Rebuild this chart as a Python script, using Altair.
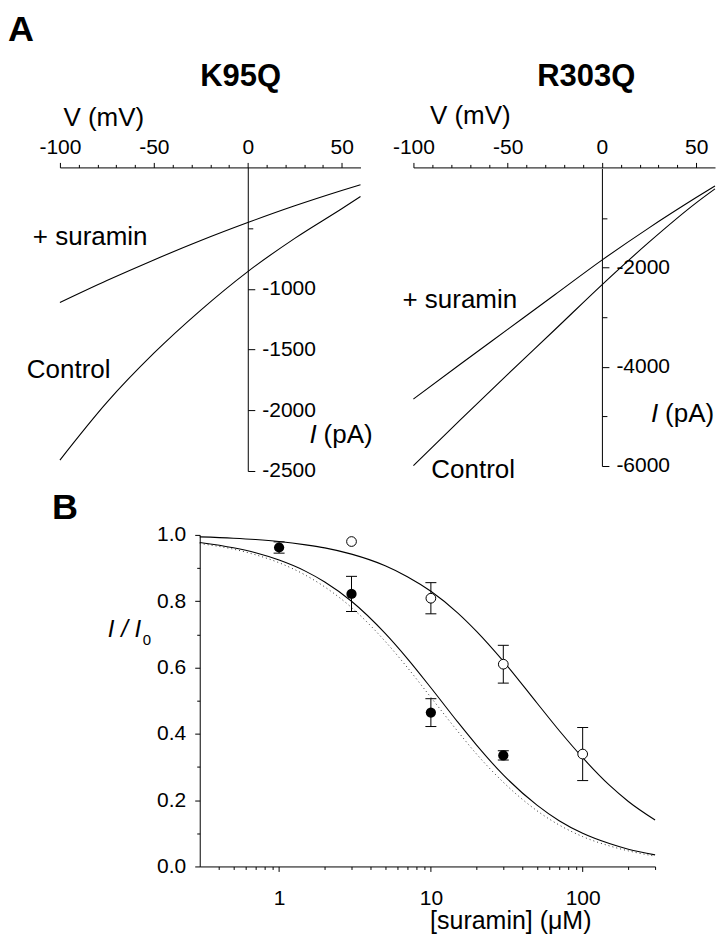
import altair as alt
import pandas as pd

FONT = "Liberation Sans"

# ---- Panel A: current-voltage relations -------------------------------
voltage = [-100, -75, -50, -25, 0, 25, 50, 60]  # mV

k95q_control = [-2410, -1935, -1530, -1175, -858, -584, -340, -240]  # pA
k95q_suramin = [-1113, -932, -762, -602, -454, -316, -190, -142]

r303q_control = [-5992, -5065, -4152, -3253, -2347, -1487, -695, -413]
r303q_suramin = [-4649, -3944, -3246, -2548, -1849, -1198, -588, -352]

v_ticks = [-100, -90, -80, -70, -60, -50, -40, -30, -20, -10, 0, 10, 20, 30, 40, 50]
k95q_ticks = [-500, -1000, -1500, -2000, -2500]
r303q_ticks = [-1000, -2000, -3000, -4000, -5000, -6000]

# ---- Panel B: concentration-response ----------------------------------
conc_filled = [1, 3, 10, 30]
ratio_filled = [0.962, 0.822, 0.464, 0.335]
sem_filled = [0.017, 0.053, 0.042, 0.014]

conc_open = [3, 10, 30, 100]
ratio_open = [0.980, 0.809, 0.610, 0.339]
sem_open = [0.0, 0.047, 0.057, 0.080]

conc_curve = [0.3, 0.5, 0.7, 1, 1.5, 2, 3, 5, 7, 10, 15, 20, 30, 50, 70, 100, 150, 200, 300]
curve_open = [0.994, 0.990, 0.986, 0.980, 0.970, 0.961, 0.942, 0.907, 0.874, 0.830,
              0.765, 0.709, 0.619, 0.493, 0.410, 0.328, 0.245, 0.196, 0.140]
curve_filled = [0.977, 0.961, 0.946, 0.924, 0.890, 0.858, 0.800, 0.703, 0.627, 0.539,
                0.436, 0.366, 0.276, 0.185, 0.138, 0.100, 0.069, 0.052, 0.035]
curve_dotted = [0.974, 0.957, 0.940, 0.916, 0.878, 0.843, 0.781, 0.679, 0.600, 0.510,
                0.408, 0.339, 0.254, 0.168, 0.125, 0.090, 0.062, 0.047, 0.031]

conc_ticks = [0.4, 0.5, 0.6, 0.7, 0.8, 0.9, 1, 2, 3, 4, 5, 6, 7, 8, 9,
              10, 20, 30, 40, 50, 60, 70, 80, 90, 100, 200, 300]
ratio_ticks = [0.0, 0.1, 0.2, 0.3, 0.4, 0.5, 0.6, 0.7, 0.8, 0.9, 1.0]

# Pixel frames of the three plots inside one shared canvas
# (origin = top-left of the K95Q plot area).
FRAME_K95Q = dict(x=[0, 301], y=[304, 0])
FRAME_R303Q = dict(x=[354, 656], y=[299, 1])
FRAME_B = dict(x=[140, 596], y=[700, 368])
CANVAS_W, CANVAS_H = 656, 700

TICK_FONT = 21
TEXT_FONT = 26


def one(value):
    return pd.DataFrame({"t": [value]})


def text_at(value, x, y, size, **style):
    return alt.Chart(one(value)).mark_text(
        align=style.pop("align", "left"), baseline="alphabetic", fontSize=size,
        font=FONT, color="black", **style
    ).encode(x=alt.value(x), y=alt.value(y), text="t:N")


def tick_len(test, major, minor):
    return {"condition": {"test": test, "value": major}, "value": minor}


def iv_panel(name, control, suramin, floor, y_ticks, y_major, frame,
             name_x, v_title_x, v_title_y, i_title_x, i_title_y, notes, extra=()):
    traces = pd.DataFrame({
        "V": voltage + voltage,
        "I": control + suramin,
        "trace": ["Control"] * len(voltage) + ["+ suramin"] * len(voltage),
    })
    x0, x1 = frame["x"]
    x_scale = alt.Scale(domain=[-100, 60], range=frame["x"], nice=False, zero=False)
    y_scale = alt.Scale(domain=[floor, 0], range=frame["y"], nice=False, zero=False)
    # the current axis sits on V = 0
    zero_px = x0 + (x1 - x0) * 100 / 160
    y_offset = -(CANVAS_W - zero_px)

    x_axis = alt.Axis(
        orient="top", values=v_ticks, grid=False,
        labelExpr="datum.value % 50 === 0 ? '' + datum.value : ''",
        tickSize=tick_len("datum.value % 50 === 0", 5, 3),
        labelPadding=5, labelFlush=False, labelOverlap=False,
        title="V (mV)", titleX=v_title_x, titleY=v_title_y, titleAlign="left",
        titleAnchor="start", titleBaseline="alphabetic", titleFontSize=TEXT_FONT,
        titleFontWeight="normal",
    )
    y_axis = alt.Axis(
        orient="right", offset=y_offset, values=y_ticks, grid=False, title=None,
        labelExpr=f"datum.value {y_major} ? '' + datum.value : ''",
        tickSize=tick_len(f"datum.value {y_major}", 7, 5),
        labelPadding=7, labelFlush=False, labelOverlap=False,
    )

    lines = alt.Chart(traces).mark_line(
        color="black", strokeWidth=1.1, interpolate="monotone"
    ).encode(
        x=alt.X("V:Q", scale=x_scale, axis=x_axis),
        y=alt.Y("I:Q", scale=y_scale, axis=y_axis),
        detail="trace:N",
    )
    labels = alt.Chart(pd.DataFrame(notes)).mark_text(
        align="left", baseline="middle", fontSize=TEXT_FONT, font=FONT, color="black"
    ).encode(x=alt.X("V:Q", scale=x_scale), y=alt.Y("I:Q", scale=y_scale), text="label:N")

    heading = text_at(name, name_x, -82, 31, align="center", fontWeight="bold")
    i_sym = text_at("I", i_title_x, i_title_y, TEXT_FONT, fontStyle="italic")
    i_unit = text_at("(pA)", i_title_x + 14, i_title_y, TEXT_FONT)
    return alt.layer(lines, labels, heading, i_sym, i_unit, *extra)


# panel letter and a transparent corner marker fixing the page origin
corner = alt.Chart(one("")).mark_point(size=1, opacity=0).encode(
    x=alt.value(-59.5), y=alt.value(-166.5))
letter_a = text_at("A", -52, -127, 36, fontWeight="bold")

k95q = iv_panel(
    "K95Q", k95q_control, k95q_suramin, -2500, k95q_ticks, "<= -1000", FRAME_K95Q,
    181, 3, -42, 250, 276,
    {"V": [-114.4, -117.6], "I": [-576, -1669], "label": ["+ suramin", "Control"]},
    extra=(letter_a, corner),
)
r303q = iv_panel(
    "R303Q", r303q_control, r303q_suramin, -6000, r303q_ticks, "% 2000 === 0", FRAME_R303Q,
    527, 370, -44, 592, 255,
    {"V": [-105.8, -90.5], "I": [-2659, -6083], "label": ["+ suramin", "Control"]},
)

# ---- Panel B -----------------------------------------------------------
x_b = alt.Scale(type="log", domain=[0.3, 300], range=FRAME_B["x"], nice=False)
y_b = alt.Scale(domain=[0, 1], range=FRAME_B["y"], nice=False, zero=False)
major_conc = "(datum.value === 1 || datum.value === 10 || datum.value === 100)"
major_ratio = "round(datum.value * 10) % 2 === 0"

x_axis_b = alt.Axis(
    orient="bottom", values=conc_ticks, grid=False,
    labelExpr=f"{major_conc} ? '' + datum.value : ''",
    tickSize=tick_len(major_conc, 5, 3),
    labelPadding=16, labelFlush=False, labelOverlap=False,
    title="[suramin] (μM)", titleX=451, titleY=62, titleAlign="center",
    titleAnchor="start", titleBaseline="alphabetic", titleFontSize=25,
    titleFontWeight="normal",
)
y_axis_b = alt.Axis(
    orient="left", offset=-FRAME_B["x"][0], values=ratio_ticks, grid=False, title=None,
    labelExpr=f"{major_ratio} ? format(datum.value, '.1f') : ''",
    tickSize=tick_len(major_ratio, 5, 3),
    labelPadding=9, labelFlush=False, labelOverlap=False,
)

curves = pd.DataFrame({"c": conc_curve, "open": curve_open,
                       "filled": curve_filled, "dotted": curve_dotted})
points = pd.DataFrame({
    "c": conc_filled + conc_open,
    "r": ratio_filled + ratio_open,
    "lo": [r - s for r, s in zip(ratio_filled, sem_filled)]
          + [r - s for r, s in zip(ratio_open, sem_open)],
    "hi": [r + s for r, s in zip(ratio_filled, sem_filled)]
          + [r + s for r, s in zip(ratio_open, sem_open)],
    "kind": ["filled"] * len(conc_filled) + ["open"] * len(conc_open),
})
errors = alt.Chart(points).transform_filter("datum.hi - datum.lo > 0.001")

base_curve = alt.Chart(curves)
dotted = base_curve.mark_line(
    color="#333333", strokeWidth=1, strokeDash=[1, 3], interpolate="monotone"
).encode(x=alt.X("c:Q", scale=x_b, axis=x_axis_b), y=alt.Y("dotted:Q", scale=y_b, axis=y_axis_b))
solid_filled = base_curve.mark_line(color="black", strokeWidth=1.1, interpolate="monotone").encode(
    x=alt.X("c:Q", scale=x_b), y=alt.Y("filled:Q", scale=y_b))
solid_open = base_curve.mark_line(color="black", strokeWidth=1.1, interpolate="monotone").encode(
    x=alt.X("c:Q", scale=x_b), y=alt.Y("open:Q", scale=y_b))

bars = errors.mark_rule(color="black", strokeWidth=1).encode(
    x=alt.X("c:Q", scale=x_b), y=alt.Y("lo:Q", scale=y_b), y2="hi:Q")
caps_lo = errors.mark_tick(
    orient="horizontal", size=11, thickness=1, color="black", opacity=1
).encode(x=alt.X("c:Q", scale=x_b), y=alt.Y("lo:Q", scale=y_b))
caps_hi = errors.mark_tick(
    orient="horizontal", size=11, thickness=1, color="black", opacity=1
).encode(x=alt.X("c:Q", scale=x_b), y=alt.Y("hi:Q", scale=y_b))
dots_filled = alt.Chart(points).transform_filter("datum.kind === 'filled'").mark_circle(
    size=105, color="black", opacity=1).encode(x=alt.X("c:Q", scale=x_b), y=alt.Y("r:Q", scale=y_b))
dots_open = alt.Chart(points).transform_filter("datum.kind === 'open'").mark_circle(
    size=95, fill="white", stroke="black", strokeWidth=1, opacity=1
).encode(x=alt.X("c:Q", scale=x_b), y=alt.Y("r:Q", scale=y_b))

letter_b = text_at("B", -8, 352, 36, fontWeight="bold")
ratio_sym = text_at("I / I", 48, 470, 24, fontStyle="italic")
ratio_sub = text_at("0", 83, 478, 15)

panel_b = alt.layer(
    dotted, solid_filled, solid_open, bars, caps_lo, caps_hi, dots_filled, dots_open,
    letter_b, ratio_sym, ratio_sub,
)

chart = alt.layer(k95q, r303q, panel_b).resolve_scale(
    x="independent", y="independent"
).properties(
    width=CANVAS_W, height=CANVAS_H, padding=0,
).configure(
    font=FONT,
).configure_view(
    stroke=None,
).configure_axis(
    domainColor="black", domainWidth=1, tickColor="black", tickWidth=1,
    labelColor="black", titleColor="black", labelFont=FONT, titleFont=FONT,
    labelFontSize=TICK_FONT, grid=False,
)

chart.save("out.html", embed_options={"renderer": "svg", "actions": False})
